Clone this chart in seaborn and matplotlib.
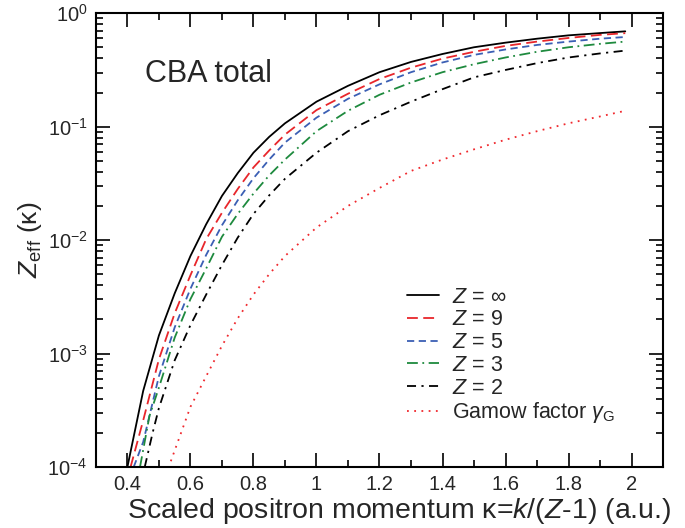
import numpy as np
import seaborn as sns
import matplotlib.pyplot as plt
from matplotlib.ticker import MultipleLocator, LogLocator, NullFormatter

## Values (kappa, Z_eff)
kappa_inf = [0.40, 0.45, 0.50, 0.55, 0.60, 0.65, 0.70, 0.75, 0.80, 0.85, 0.90, 1.00,
             1.10, 1.20, 1.30, 1.40, 1.50, 1.60, 1.70, 1.80, 1.90, 1.98]
zeff_inf = [1.0e-4, 4.68e-4, 1.445e-3, 3.39e-3, 7.24e-3, 1.38e-2, 2.45e-2, 3.89e-2, 5.89e-2, 8.13e-2, 0.107, 0.166,
            0.229, 0.302, 0.372, 0.437, 0.501, 0.550, 0.596, 0.638, 0.668, 0.692]

kappa_z9 = [0.41, 0.45, 0.50, 0.55, 0.60, 0.65, 0.70, 0.75, 0.80, 0.85, 0.90, 1.00,
            1.10, 1.20, 1.30, 1.40, 1.50, 1.60, 1.70, 1.80, 1.90, 1.98]
zeff_z9 = [1.0e-4, 2.57e-4, 8.91e-4, 2.26e-3, 4.90e-3, 1.02e-2, 1.74e-2, 2.82e-2, 4.37e-2, 6.17e-2, 8.51e-2, 0.140,
           0.195, 0.263, 0.331, 0.398, 0.457, 0.515, 0.562, 0.605, 0.644, 0.667]

kappa_z5 = [0.42, 0.45, 0.50, 0.55, 0.60, 0.65, 0.70, 0.75, 0.80, 0.85, 0.90, 1.00,
            1.10, 1.20, 1.30, 1.40, 1.50, 1.60, 1.70, 1.80, 1.90, 1.98]
zeff_z5 = [1.0e-4, 1.66e-4, 6.31e-4, 1.70e-3, 3.72e-3, 7.41e-3, 1.35e-2, 2.24e-2, 3.51e-2, 5.13e-2, 7.24e-2, 0.120,
           0.176, 0.236, 0.302, 0.368, 0.429, 0.479, 0.525, 0.562, 0.596, 0.617]

kappa_z3 = [0.44, 0.47, 0.50, 0.55, 0.60, 0.65, 0.70, 0.75, 0.80, 0.85, 0.90, 1.00,
            1.10, 1.20, 1.30, 1.40, 1.50, 1.60, 1.70, 1.80, 1.90, 1.98]
zeff_z3 = [1.0e-4, 2.82e-4, 5.01e-4, 1.38e-3, 3.02e-3, 5.62e-3, 1.07e-2, 1.70e-2, 2.57e-2, 3.72e-2, 5.13e-2, 9.12e-2,
           0.138, 0.191, 0.245, 0.302, 0.355, 0.407, 0.457, 0.501, 0.537, 0.562]

kappa_z2 = [0.455, 0.48, 0.50, 0.55, 0.60, 0.65, 0.70, 0.75, 0.80, 0.85, 0.90, 1.00,
            1.10, 1.20, 1.30, 1.40, 1.50, 1.60, 1.70, 1.80, 1.90, 1.98]
zeff_z2 = [1.0e-4, 2.0e-4, 3.31e-4, 8.71e-4, 1.78e-3, 3.31e-3, 6.03e-3, 1.05e-2, 1.70e-2, 2.48e-2, 3.47e-2, 5.89e-2,
           9.12e-2, 0.126, 0.166, 0.214, 0.272, 0.316, 0.363, 0.407, 0.442, 0.468]

kappa_gamow = [0.53, 0.54, 0.60, 0.65, 0.70, 0.75, 0.80, 0.85, 0.90, 1.00, 1.10, 1.20,
               1.30, 1.40, 1.50, 1.60, 1.70, 1.80, 1.90, 1.98]
gamow = [9.8e-5, 1.17e-4, 3.39e-4, 6.31e-4, 1.17e-3, 2.04e-3, 3.31e-3, 5.01e-3, 7.24e-3, 1.29e-2, 2.0e-2, 2.88e-2,
         4.07e-2, 5.13e-2, 6.31e-2, 7.67e-2, 9.12e-2, 0.107, 0.123, 0.138]

x_ticks = [0.4, 0.6, 0.8, 1.0, 1.2, 1.4, 1.6, 1.8, 2.0]
x_ticklabels = ['0.4', '0.6', '0.8', '1', '1.2', '1.4', '1.6', '1.8', '2']

sns.set_theme(style='ticks')
plt.rcParams['font.family'] = ['Liberation Sans', 'DejaVu Sans']
plt.rcParams['mathtext.fontset'] = 'custom'
plt.rcParams['mathtext.rm'] = 'Liberation Sans'
plt.rcParams['mathtext.it'] = 'Liberation Sans:italic'
plt.rcParams['mathtext.bf'] = 'Liberation Sans:bold'

fig = plt.figure(figsize=(6.85, 5.28), dpi=100)
ax = fig.add_axes([0.140, 0.1155, 0.828, 0.8595])
ax.set_yscale('log')

series = [
    (kappa_inf, zeff_inf, 'black', '-', r'$Z$ = $\infty$'),
    (kappa_z9, zeff_z9, '#e8262b', (0, (6, 3)), r'$Z$ = 9'),
    (kappa_z5, zeff_z5, '#3b5fb4', (0, (4, 2.5)), r'$Z$ = 5'),
    (kappa_z3, zeff_z3, '#1e8a3e', (0, (6, 2.5, 1, 2.5)), r'$Z$ = 3'),
    (kappa_z2, zeff_z2, 'black', (0, (5, 3, 1.2, 3)), r'$Z$ = 2'),
    (kappa_gamow, gamow, '#f0282d', (0, (1, 3)), r'Gamow factor $\gamma_{\mathrm{G}}$'),
]
for xs, ys, col, ls, lab in series:
    sns.lineplot(x=xs, y=ys, ax=ax, color=col, linestyle=ls, linewidth=1.3,
                 label=lab, sort=False)

ax.set_xlim(0.3, 2.1)
ax.set_ylim(1e-4, 1)
ax.set_xticks(x_ticks)
ax.set_xticklabels(x_ticklabels)
ax.xaxis.set_minor_locator(MultipleLocator(0.1))
ax.yaxis.set_major_locator(LogLocator(base=10, numticks=10))
ax.yaxis.set_minor_locator(LogLocator(base=10, subs=np.arange(2, 10), numticks=10))
ax.yaxis.set_minor_formatter(NullFormatter())

ax.tick_params(which='both', direction='in', top=True, right=True, labelsize=14.5,
               width=1.2, color='black', pad=6)
ax.tick_params(which='major', length=10)
ax.tick_params(which='minor', length=5)
for s in ax.spines.values():
    s.set_linewidth(1.5)
    s.set_color('black')

ax.set_xlabel(r'Scaled positron momentum κ=$k$/($Z$-1) (a.u.)', fontsize=20.5)
ax.xaxis.set_label_coords(0.535, -0.112, transform=ax.transAxes)
ax.xaxis.label.set_va('baseline')
ax.set_ylabel(r'$Z_{\mathrm{eff}}$ (κ)', fontsize=19, labelpad=2)

ax.text(0.086, 0.865, 'CBA total', transform=ax.transAxes, fontsize=22,
        va='center', ha='left')

ax.legend(loc='upper left', bbox_to_anchor=(0.515, 0.44), frameon=False,
          fontsize=15.5, handlelength=1.45, handletextpad=0.6, labelspacing=0.08)

plt.savefig('out.png', dpi=100)
